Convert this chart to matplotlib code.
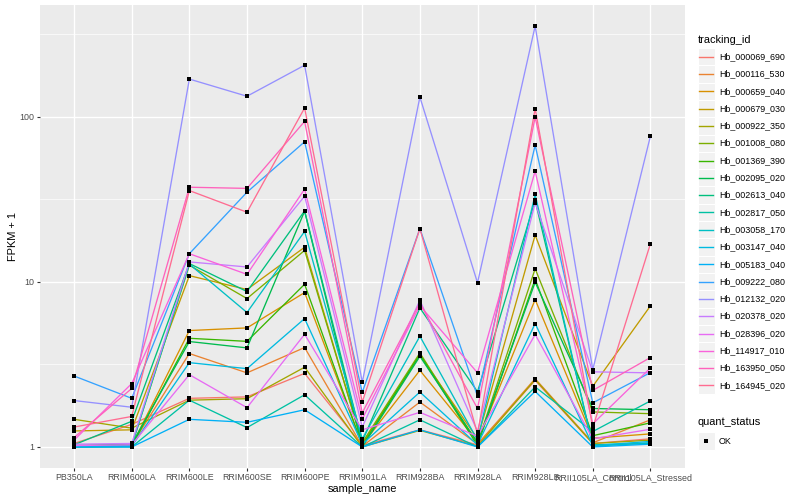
import numpy as np
import matplotlib.pyplot as plt
from matplotlib.patches import Rectangle
from matplotlib.ticker import NullFormatter

plt.rcParams['font.family'] = ['Liberation Sans', 'DejaVu Sans']

samples = ['PB350LA', 'RRIM600LA', 'RRIM600LE', 'RRIM600SE', 'RRIM600PE',
           'RRIM901LA', 'RRIM928BA', 'RRIM928LA', 'RRIM928LB',
           'RRII105LA_Control', 'RRII105LA_Stressed']

tracking_ids = ['Hb_000069_690', 'Hb_000116_530', 'Hb_000659_040', 'Hb_000679_030',
                'Hb_000922_350', 'Hb_001008_080', 'Hb_001369_390', 'Hb_002095_020',
                'Hb_002613_040', 'Hb_002817_050', 'Hb_003058_170', 'Hb_003147_040',
                'Hb_005183_040', 'Hb_009222_080', 'Hb_012132_020', 'Hb_020378_020',
                'Hb_028396_020', 'Hb_114917_010', 'Hb_163950_050', 'Hb_164945_020']

# FPKM + 1, one list per gene, in sample order
hb_000069_690 = [1.05, 1.37, 1.97, 2.01, 2.79, 1.02, 1.27, 1.03, 2.53, 1.05, 1.12]
hb_000116_530 = [1.02, 1.03, 3.68, 2.81, 4.00, 1.01, 1.87, 1.04, 2.59, 1.06, 1.46]
hb_000659_040 = [1.00, 1.02, 5.07, 5.26, 8.61, 1.03, 2.91, 1.08, 7.81, 1.13, 1.20]
hb_000679_030 = [1.25, 1.27, 10.9, 8.98, 16.2, 1.05, 3.60, 1.12, 19.2, 2.33, 7.15]
hb_000922_350 = [1.47, 1.30, 1.92, 1.96, 3.04, 1.00, 1.26, 1.01, 2.56, 1.05, 1.10]
hb_001008_080 = [1.01, 1.02, 12.6, 7.92, 15.5, 1.06, 3.71, 1.05, 12.0, 1.63, 1.59]
hb_001369_390 = [1.00, 1.01, 4.55, 4.36, 9.67, 1.02, 3.63, 1.02, 10.4, 1.17, 1.40]
hb_002095_020 = [1.02, 1.04, 4.35, 3.98, 26.8, 1.00, 3.54, 1.06, 9.95, 1.71, 1.68]
hb_002613_040 = [1.03, 1.43, 12.9, 8.73, 26.9, 1.08, 6.95, 2.16, 31.1, 1.03, 1.05]
hb_002817_050 = [1.00, 1.00, 1.92, 1.31, 2.07, 1.00, 1.46, 1.00, 2.31, 1.24, 1.90]
hb_003058_170 = [1.01, 1.02, 12.8, 6.52, 20.2, 1.12, 4.68, 1.10, 33.8, 1.01, 1.06]
hb_003147_040 = [1.00, 1.01, 3.24, 2.98, 5.99, 1.04, 2.15, 1.03, 5.59, 1.02, 1.08]
hb_005183_040 = [1.00, 1.00, 1.47, 1.41, 1.68, 1.00, 1.27, 1.00, 2.17, 1.00, 1.04]
hb_009222_080 = [2.69, 1.97, 14.8, 34.9, 70.5, 2.14, 21.0, 2.03, 67.3, 1.85, 2.82]
hb_012132_020 = [1.91, 1.74, 169., 133., 205., 2.46, 131.5, 9.86, 354., 2.94, 76.3]
hb_020378_020 = [1.04, 1.05, 13.2, 12.3, 33.0, 1.32, 7.74, 1.24, 30.1, 2.85, 2.81]
hb_028396_020 = [1.02, 1.03, 2.74, 1.73, 4.81, 1.27, 1.62, 1.16, 4.80, 1.12, 1.28]
hb_114917_010 = [1.10, 2.42, 14.8, 11.1, 36.4, 1.48, 7.18, 2.81, 46.8, 1.38, 3.01]
hb_163950_050 = [1.14, 2.26, 37.4, 36.8, 93.7, 1.61, 7.46, 1.71, 99.5, 2.20, 3.48]
hb_164945_020 = [1.32, 1.53, 35.7, 26.4, 113., 1.87, 21.0, 1.20, 112., 1.31, 17.0]

series = [hb_000069_690, hb_000116_530, hb_000659_040, hb_000679_030, hb_000922_350,
          hb_001008_080, hb_001369_390, hb_002095_020, hb_002613_040, hb_002817_050,
          hb_003058_170, hb_003147_040, hb_005183_040, hb_009222_080, hb_012132_020,
          hb_020378_020, hb_028396_020, hb_114917_010, hb_163950_050, hb_164945_020]

# ggplot2 default hue palette for 20 levels
colors = ['#F8766D', '#EA8331', '#D89000', '#C09B00', '#A3A500', '#7CAE00', '#39B600',
          '#00BB4E', '#00BF7D', '#00C1A3', '#00BFC4', '#00BAE0', '#00B0F6', '#35A2FF',
          '#9590FF', '#C77CFF', '#E76BF3', '#FA62DB', '#FF62BC', '#FF6C91']

W, H = 800, 500
fig = plt.figure(figsize=(8, 5), dpi=100)
px_l, px_r, px_t, px_b = 39.5, 685, 5, 468
ax = fig.add_axes([px_l / W, 1 - px_b / H, (px_r - px_l) / W, (px_b - px_t) / H])
ax.set_facecolor('#EBEBEB')
for s in ax.spines.values():
    s.set_visible(False)

x = np.arange(len(samples))
for vals, col in zip(series, colors):
    ax.plot(x, vals, color=col, lw=0.95, zorder=2)
for vals in series:
    ax.plot(x, vals, 's', color='black', ms=2.2, mew=0, zorder=3)

ax.set_yscale('log')
allv = np.log10(np.concatenate([np.array(v) for v in series]))
lo, hi = allv.min(), allv.max()
pad = 0.05 * (hi - lo)
ax.set_ylim(10 ** (lo - pad), 10 ** (hi + pad))
ax.set_xlim(-0.6, len(samples) - 0.4)

ax.set_yticks([1, 10, 100])
ax.set_yticklabels(['1', '10', '100'])
ax.set_yticks([10 ** 0.5, 10 ** 1.5, 10 ** 2.5], minor=True)
ax.yaxis.set_minor_formatter(NullFormatter())
ax.set_xticks(x)
ax.set_xticklabels(samples)

ax.set_axisbelow(True)
ax.grid(which='major', color='white', lw=1.0)
ax.grid(which='minor', axis='y', color='white', lw=0.5)
ax.tick_params(which='major', length=2, width=0.8, color='#333333',
               labelcolor='#4D4D4D', labelsize=6.4, pad=1.5)
ax.tick_params(which='minor', length=0)

ax.set_xlabel('sample_name', fontsize=7.9, labelpad=1.5)
ax.set_ylabel('FPKM + 1', fontsize=7.9, labelpad=1)

# legend, drawn in pixel coordinates
leg = fig.add_axes([0, 0, 1, 1], zorder=-1)
leg.set_xlim(0, W)
leg.set_ylim(H, 0)
leg.axis('off')

kx, ksz = 697.5, 17.3
leg.text(kx, 40, 'tracking_id', fontsize=7.9, ha='left', va='center')
for i, (name, col) in enumerate(zip(tracking_ids, colors)):
    cy = 56.7 + ksz * i
    leg.add_patch(Rectangle((kx, cy - ksz / 2), ksz, ksz, fc='#F2F2F2', ec='white', lw=0.8))
    leg.plot([kx + 1.5, kx + ksz - 1.5], [cy, cy], color=col, lw=1.0)
    leg.text(kx + ksz + 4, cy, name, fontsize=6.4, ha='left', va='center')

leg.text(kx, 422, 'quant_status', fontsize=7.9, ha='left', va='center')
leg.add_patch(Rectangle((kx, 441 - ksz / 2), ksz, ksz, fc='#F2F2F2', ec='white', lw=0.8))
leg.plot([kx + ksz / 2], [441], 's', color='black', ms=2.2, mew=0)
leg.text(kx + ksz + 4, 441, 'OK', fontsize=6.4, ha='left', va='center')

fig.savefig('out.png', dpi=100)
